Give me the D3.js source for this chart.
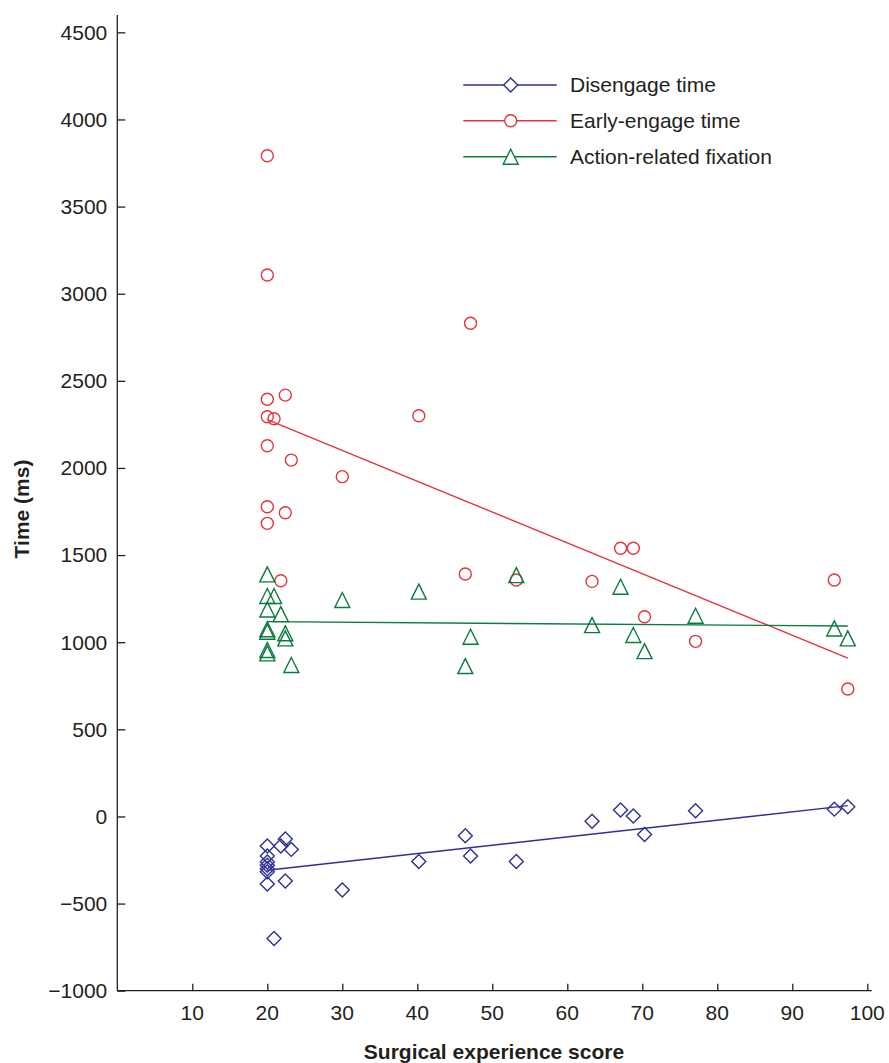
<!DOCTYPE html>
<html>
<head>
<meta charset="utf-8">
<script src="https://cdn.jsdelivr.net/npm/d3@7/dist/d3.min.js"></script>
<style>
  html, body { margin: 0; padding: 0; background: #ffffff; }
  svg text { font-family: "Liberation Sans", Arial, Helvetica, sans-serif; fill: #231f20; }
</style>
</head>
<body>
<svg id="chart" width="889" height="1063"></svg>
<script>
// ---- data ----
const scores = [20, 20, 20, 20, 20, 20, 20, 20.9, 21.8, 22.4, 22.4, 23.2, 30.0, 40.2, 46.4, 47.1, 53.2, 63.3, 67.1, 68.8, 70.3, 77.1, 95.6, 97.4];
const disengageTime = [-170, -227, -262, -280, -300, -317, -388, -700, -170, -130, -371, -189, -422, -258, -111, -227, -258, -28, 37, 2, -103, 33, 42, 56];
const earlyEngageTime = [3792, 3107, 2394, 2294, 2127, 1777, 1682, 2282, 1353, 2418, 1743, 2045, 1950, 2300, 1391, 2830, 1357, 1349, 1539, 1539, 1146, 1005, 1357, 731];
const actionFixation = [1389, 1265, 1188, 1074, 1060, 955, 936, 1265, 1161, 1051, 1022, 869, 1242, 1290, 863, 1031, 1385, 1098, 1318, 1041, 949, 1152, 1079, 1022];

// fitted trend lines (end points)
const disengageTrend = [[20, -309], [97.4, 62]];
const earlyEngageTrend = [[20, 2277], [97.4, 909]];
const actionTrend = [[20, 1118], [97.4, 1093]];

const seriesNames = ["Disengage time", "Early-engage time", "Action-related fixation"];
const xTicks = [10, 20, 30, 40, 50, 60, 70, 80, 90, 100];
const yTicks = [-1000, -500, 0, 500, 1000, 1500, 2000, 2500, 3000, 3500, 4000, 4500];
const xTitle = "Surgical experience score";
const yTitle = "Time (ms)";

// ---- layout ----
const colors = { blue: "#2e3192", red: "#e2363c", green: "#0b7b3e" };
const svg = d3.select("#chart");
const x = d3.scaleLinear().domain([0, 100]).range([117.3, 867.3]);
const y = d3.scaleLinear().domain([-1000, 4600]).range([990.7, 14.9]);

const fmt = v => (v < 0 ? "\u2212" + Math.abs(v) : String(v));

// axes
const yAxis = d3.axisRight(y).tickValues(yTicks).tickSize(8).tickFormat("");
const gy = svg.append("g").attr("transform", `translate(${x(0)},0)`).call(yAxis);
gy.select(".domain").attr("d", `M0,${y(4600)}V${y(-1000)}`);
const xAxis = d3.axisTop(x).tickValues(xTicks).tickSize(7).tickFormat("");
const gx = svg.append("g").attr("transform", `translate(0,${y(-1000)})`).call(xAxis);
gx.select(".domain").attr("d", `M${x(0)},0H${x(100.6)}`);
svg.selectAll(".domain, .tick line").attr("stroke", "#231f20").attr("stroke-width", 1.3);

// tick labels
svg.append("g").selectAll("text").data(yTicks).join("text")
  .attr("x", x(0) - 10).attr("y", d => y(d)).attr("dy", "0.35em")
  .attr("text-anchor", "end").attr("font-size", 21).text(fmt);
svg.append("g").selectAll("text").data(xTicks).join("text")
  .attr("x", d => x(d)).attr("y", 1020)
  .attr("text-anchor", "middle").attr("font-size", 21).text(fmt);

// titles
svg.append("text").attr("x", 494).attr("y", 1059).attr("text-anchor", "middle")
  .attr("font-size", 21).attr("font-weight", "bold").text(xTitle);
svg.append("text").attr("transform", "translate(28.5,509) rotate(-90)").attr("text-anchor", "middle")
  .attr("font-size", 21).attr("font-weight", "bold").text(yTitle);

// trend lines
const line = d3.line().x(d => x(d[0])).y(d => y(d[1]));
[[disengageTrend, colors.blue], [earlyEngageTrend, colors.red], [actionTrend, colors.green]].forEach(([t, c]) => {
  svg.append("path").attr("d", line(t)).attr("fill", "none").attr("stroke", c).attr("stroke-width", 1.4);
});

// markers
const diamond = "M0,-7L7,0L0,7L-7,0Z";
const triangle = "M0,-7.5L7.5,7.5L-7.5,7.5Z";
function drawMarkers(vals, shape, color) {
  const g = svg.append("g");
  const pts = scores.map((s, i) => [s, vals[i]]);
  if (shape === "circle") {
    g.selectAll("circle").data(pts).join("circle")
      .attr("cx", d => x(d[0])).attr("cy", d => y(d[1])).attr("r", 6)
      .attr("fill", "none").attr("stroke", color).attr("stroke-width", 1.4);
  } else {
    g.selectAll("path").data(pts).join("path")
      .attr("d", shape).attr("transform", d => `translate(${x(d[0])},${y(d[1])})`)
      .attr("fill", "none").attr("stroke", color).attr("stroke-width", 1.4);
  }
}
drawMarkers(earlyEngageTime, "circle", colors.red);
drawMarkers(actionFixation, triangle, colors.green);
drawMarkers(disengageTime, diamond, colors.blue);

// legend
const legendRows = [
  { name: seriesNames[0], color: colors.blue, shape: diamond, y: 85 },
  { name: seriesNames[1], color: colors.red, shape: "circle", y: 120.7 },
  { name: seriesNames[2], color: colors.green, shape: triangle, y: 156.7 }
];
const lg = svg.append("g");
legendRows.forEach(r => {
  lg.append("line").attr("x1", 463.3).attr("x2", 556.7).attr("y1", r.y).attr("y2", r.y)
    .attr("stroke", r.color).attr("stroke-width", 1.4);
  if (r.shape === "circle") {
    lg.append("circle").attr("cx", 510.7).attr("cy", r.y).attr("r", 6)
      .attr("fill", "#fff").attr("stroke", r.color).attr("stroke-width", 1.4);
  } else {
    lg.append("path").attr("d", r.shape).attr("transform", `translate(510.7,${r.y})`)
      .attr("fill", "#fff").attr("stroke", r.color).attr("stroke-width", 1.4);
  }
  lg.append("text").attr("x", 570).attr("y", r.y).attr("dy", "0.35em")
    .attr("font-size", 21).text(r.name);
});
</script>
</body>
</html>
